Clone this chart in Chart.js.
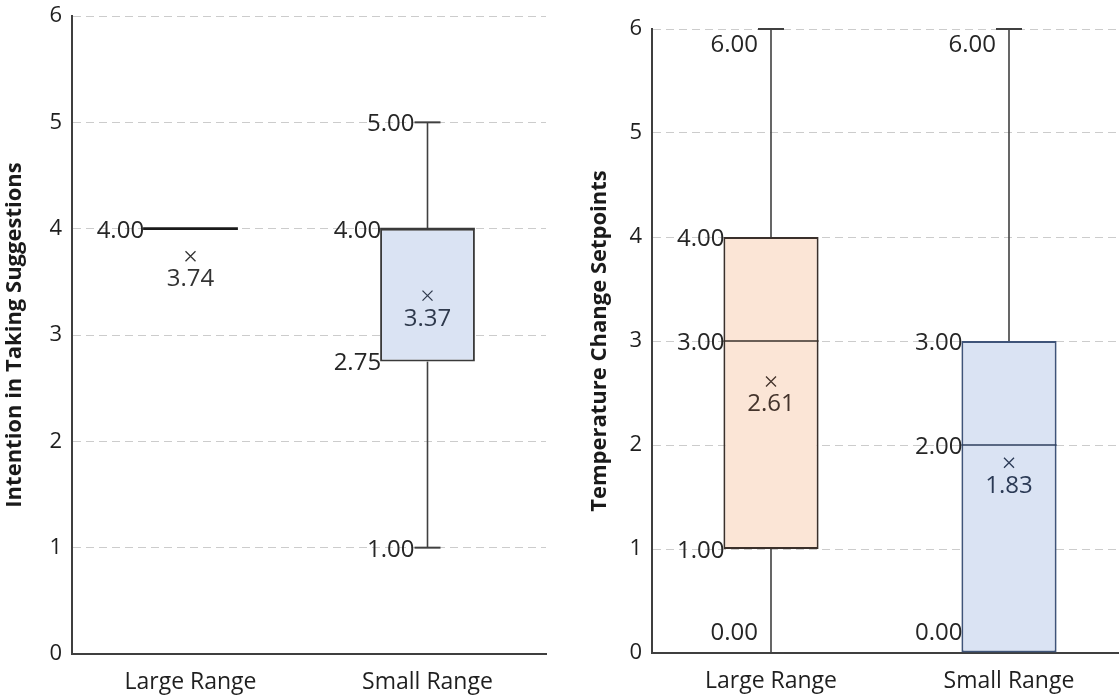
<!DOCTYPE html>
<html>
<head>
<meta charset="utf-8">
<script src="https://cdn.jsdelivr.net/npm/chart.js@4.4.1/dist/chart.umd.min.js"></script>
<style>
  html, body { margin: 0; padding: 0; background: #ffffff; overflow: hidden; width: 1119px; height: 698px; }
  canvas { position: absolute; top: 0; }
  #intent { left: 0; }
  #setpoint { left: 560px; }
</style>
</head>
<body>
<canvas id="intent" width="560" height="698"></canvas>
<canvas id="setpoint" width="570" height="698"></canvas>
<script>
// Groups on the category axis
const categories = ['Large Range', 'Small Range'];
const yTickValues = [0, 1, 2, 3, 4, 5, 6];

// Intention in taking suggestions: five-number summary and mean per group
const intentMin    = [4.00, 1.00];
const intentQ1     = [4.00, 2.75];
const intentMedian = [4.00, 4.00];
const intentQ3     = [4.00, 4.00];
const intentMax    = [4.00, 5.00];
const intentMean   = [3.74, 3.37];

// Temperature change setpoints: five-number summary and mean per group
const setMin    = [0.00, 0.00];
const setQ1     = [1.00, 0.00];
const setMedian = [3.00, 2.00];
const setQ3     = [4.00, 3.00];
const setMax    = [6.00, 6.00];
const setMean   = [2.61, 1.83];

const FONT = "'Open Sans', 'DejaVu Sans', sans-serif";
const AXIS_COLOR = '#3f3f3f';

// Whiskers, medians, mean markers and value labels, placed through the chart's scales
const boxWhiskers = {
  id: 'boxWhiskers',
  afterDatasetsDraw(chart, args, o) {
    const ctx = chart.ctx;
    const ys = chart.scales.y;
    const area = chart.chartArea;
    const meta = chart.getDatasetMeta(0);
    const cap = 13;
    meta.data.forEach((bar, i) => {
      const cx = bar.x;
      const half = bar.width / 2;
      const py = v => ys.getPixelForValue(v);
      const mn = o.min[i], q1 = o.q1[i], md = o.median[i], q3 = o.q3[i], mx = o.max[i], mean = o.mean[i];
      ctx.save();
      ctx.strokeStyle = '#404040';
      ctx.lineCap = 'butt';
      // upper whisker
      if (mx > q3) {
        ctx.lineWidth = 1.6;
        ctx.beginPath(); ctx.moveTo(cx, py(q3)); ctx.lineTo(cx, py(mx)); ctx.stroke();
        ctx.lineWidth = 2;
        ctx.beginPath(); ctx.moveTo(cx - cap, py(mx)); ctx.lineTo(cx + cap, py(mx)); ctx.stroke();
      }
      // lower whisker
      if (mn < q1) {
        ctx.lineWidth = 1.6;
        ctx.beginPath(); ctx.moveTo(cx, py(q1)); ctx.lineTo(cx, py(mn)); ctx.stroke();
        ctx.lineWidth = 2;
        ctx.beginPath(); ctx.moveTo(cx - cap, py(mn)); ctx.lineTo(cx + cap, py(mn)); ctx.stroke();
      }
      // median
      ctx.strokeStyle = o.medianColor[i];
      ctx.lineWidth = (q1 === q3) ? 2.6 : 1.6;
      ctx.beginPath(); ctx.moveTo(cx - half, py(md)); ctx.lineTo(cx + half, py(md)); ctx.stroke();
      // mean marker
      const my = py(mean);
      ctx.strokeStyle = o.meanColor[i];
      ctx.lineWidth = 1.3;
      const m = 5;
      ctx.beginPath();
      ctx.moveTo(cx - m, my - m); ctx.lineTo(cx + m, my + m);
      ctx.moveTo(cx + m, my - m); ctx.lineTo(cx - m, my + m);
      ctx.stroke();
      ctx.fillStyle = o.meanColor[i];
      ctx.font = '24px ' + FONT;
      ctx.textAlign = 'center';
      ctx.textBaseline = 'middle';
      ctx.fillText(mean.toFixed(2), cx, my + 23);
      // value labels for distinct summary values
      const seen = [];
      [mx, q3, md, q1, mn].forEach(v => {
        if (seen.includes(v)) return;
        seen.push(v);
        const inBox = v >= q1 && v <= q3;
        const ax = inBox ? cx - half + 1 : cx - cap;
        let ly = py(v) + 2;
        ly = Math.max(area.top + 16, Math.min(area.bottom - 20, ly));
        ctx.fillStyle = '#262626';
        ctx.textAlign = 'right';
        ctx.fillText(v.toFixed(2), ax, ly);
      });
      ctx.restore();
    });
  }
};

function makeChart(id, opts) {
  return new Chart(document.getElementById(id), {
    type: 'bar',
    data: {
      labels: categories,
      datasets: [{
        data: opts.q1.map((v, i) => [v, opts.q3[i]]),
        backgroundColor: opts.fill,
        borderColor: opts.stroke,
        borderWidth: 2,
        borderSkipped: false,
        barPercentage: 0.4,
        categoryPercentage: 1.0
      }]
    },
    options: {
      responsive: false,
      animation: false,
      layout: { padding: { left: 0, top: opts.top, right: opts.right, bottom: 0 } },
      plugins: {
        legend: { display: false },
        tooltip: { enabled: false },
        boxWhiskers: {
          min: opts.min, q1: opts.q1, median: opts.median, q3: opts.q3, max: opts.max, mean: opts.mean,
          medianColor: opts.medianColor, meanColor: opts.meanColor
        }
      },
      scales: {
        x: {
          grid: { display: false, drawTicks: false },
          border: { display: true, color: AXIS_COLOR, width: 2 },
          ticks: { color: '#1f1f1f', font: { family: FONT, size: 23 }, padding: 15 },
          afterFit: s => { s.height = opts.xHeight; s.paddingLeft = 0; s.paddingRight = 0; }
        },
        y: {
          min: 0, max: 6,
          afterBuildTicks: s => { s.ticks = yTickValues.map(v => ({ value: v })); },
          grid: { color: '#cccccc', lineWidth: 1, drawTicks: false },
          border: { display: true, color: AXIS_COLOR, width: 2, dash: [8, 5] },
          ticks: { color: '#1f1f1f', font: { family: FONT, size: 22 }, padding: 10 },
          title: {
            display: true, text: opts.title, color: '#1a1a1a',
            font: { family: FONT, size: 22, weight: 'bold' },
            padding: { top: opts.titlePad, bottom: 0 }
          },
          afterFit: s => { s.width = opts.yWidth; s.paddingTop = 0; s.paddingBottom = 0; }
        }
      }
    },
    plugins: [boxWhiskers]
  });
}

makeChart('intent', {
  title: 'Intention in Taking Suggestions',
  min: intentMin, q1: intentQ1, median: intentMedian, q3: intentQ3, max: intentMax, mean: intentMean,
  fill: ['rgba(0,0,0,0)', '#dae3f3'],
  stroke: ['rgba(0,0,0,0)', '#3a3a3a'],
  medianColor: ['#1a1a1a', '#3a3a3a'],
  meanColor: ['#333333', '#2f3a4d'],
  top: 16, right: 14, yWidth: 72, xHeight: 44, titlePad: 2
});

makeChart('setpoint', {
  title: 'Temperature Change Setpoints',
  min: setMin, q1: setQ1, median: setMedian, q3: setQ3, max: setMax, mean: setMean,
  fill: ['#fbe5d6', '#dae3f3'],
  stroke: ['#3a302b', '#3f5479'],
  medianColor: ['#3a302b', '#2e3f5e'],
  meanColor: ['#43332b', '#2b3a55'],
  top: 29, right: 2, yWidth: 92, xHeight: 45, titlePad: 27
});
</script>
</body>
</html>
